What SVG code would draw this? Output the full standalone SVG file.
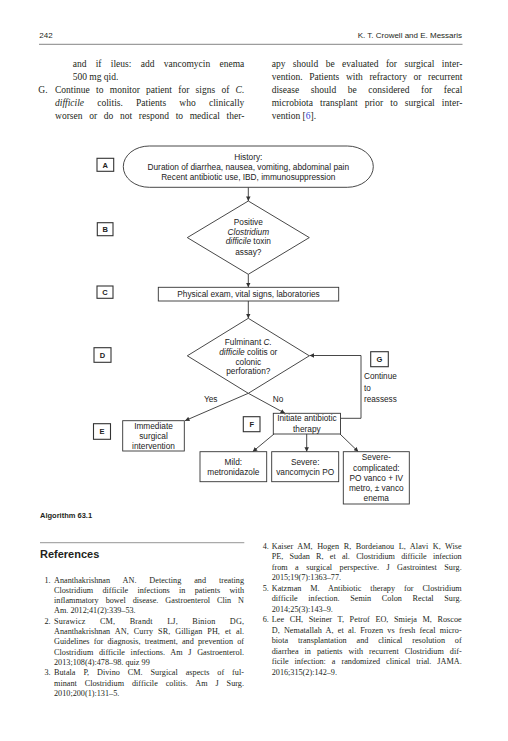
<svg xmlns="http://www.w3.org/2000/svg" width="508" height="741" viewBox="0 0 508 741">
<style>
.pg{font-family:"Liberation Serif","Times New Roman",serif;font-size:9.5px;fill:#231f20}
.rf{font-family:"Liberation Serif","Times New Roman",serif;font-size:8.2px;fill:#231f20}
.hd{font-family:"Liberation Sans",Arial,sans-serif;font-size:8px;fill:#231f20}
.fc{font-family:"Liberation Sans",Arial,sans-serif;font-size:8.3px;fill:#222;text-anchor:middle}
.fl{font-family:"Liberation Sans",Arial,sans-serif;font-size:8.2px;fill:#222}
.lb{font-family:"Liberation Sans",Arial,sans-serif;font-size:7.5px;font-weight:bold;fill:#222;text-anchor:middle}
.shape{fill:#fff;stroke:#333;stroke-width:0.9}
.lbox{fill:#fff;stroke:#333;stroke-width:1.1}
.conn{fill:none;stroke:#333;stroke-width:0.9}
.i{font-style:italic}
</style>
<defs>
<marker id="ah" viewBox="0 0 10 10" refX="10" refY="5" markerWidth="5" markerHeight="4.5" markerUnits="userSpaceOnUse" orient="auto">
<path d="M0,0 L10,5 L0,10 z" fill="#333"/>
</marker>
</defs>
<rect width="508" height="741" fill="#fff"/>

<!-- header -->
<g id="header">
<text class="hd" x="39.3" y="38">242</text>
<text class="hd" x="462" y="38" text-anchor="end">K. T. Crowell and E. Messaris</text>
<line x1="39" y1="44.3" x2="462.5" y2="44.3" stroke="#666" stroke-width="0.8"/>
</g>

<!-- body text -->
<g id="body">
<text class="pg" x="72.7" y="66.5" word-spacing="6.9" textLength="171.6" lengthAdjust="spacing">and if ileus: add vancomycin enema</text>
<text class="pg" x="72.7" y="79.8">500 mg qid.</text>
<text class="pg" x="38.3" y="93">G.</text>
<text class="pg" x="55" y="93" word-spacing="3.9" textLength="189.3" lengthAdjust="spacing">Continue to monitor patient for signs of <tspan class="i">C.</tspan></text>
<text class="pg" x="55" y="106" word-spacing="10.8" textLength="189.3" lengthAdjust="spacing"><tspan class="i">difficile</tspan> colitis. Patients who clinically</text>
<text class="pg" x="55" y="119" word-spacing="4.3" textLength="189.3" lengthAdjust="spacing">worsen or do not respond to medical ther-</text>

<text class="pg" x="271.7" y="66.5" word-spacing="5" textLength="190.6" lengthAdjust="spacing">apy should be evaluated for surgical inter-</text>
<text class="pg" x="271.7" y="79.8" word-spacing="4.2" textLength="190.6" lengthAdjust="spacing">vention. Patients with refractory or recurrent</text>
<text class="pg" x="271.7" y="93" word-spacing="9.2" textLength="190.6" lengthAdjust="spacing">disease should be considered for fecal</text>
<text class="pg" x="271.7" y="106" word-spacing="4.7" textLength="190.6" lengthAdjust="spacing">microbiota transplant prior to surgical inter-</text>
<text class="pg" x="271.7" y="119">vention [<tspan fill="#2b3fd6">6</tspan>].</text>
</g>

<!-- connectors -->
<g id="connectors">
<line class="conn" x1="248.3" y1="187.3" x2="248.3" y2="201" marker-end="url(#ah)"/>
<line class="conn" x1="248.3" y1="274.3" x2="248.3" y2="287.3" marker-end="url(#ah)"/>
<line class="conn" x1="248.3" y1="301" x2="248.3" y2="318.3" marker-end="url(#ah)"/>
<line class="conn" x1="248.3" y1="393.3" x2="185" y2="420.7" marker-end="url(#ah)"/>
<line class="conn" x1="248.3" y1="393.3" x2="285" y2="413.3" marker-end="url(#ah)"/>
<polyline class="conn" points="340.5,418.3 361,418.3 361,355.5 309.5,355.5" marker-end="url(#ah)"/>
<line class="conn" x1="274" y1="434" x2="252.7" y2="451.7" marker-end="url(#ah)"/>
<line class="conn" x1="306.7" y1="434" x2="306.7" y2="451.7" marker-end="url(#ah)"/>
<line class="conn" x1="340" y1="434" x2="358.3" y2="451.7" marker-end="url(#ah)"/>
<text class="fc" x="210.7" y="402">Yes</text>
<text class="fc" x="278" y="402">No</text>
<text class="fl" x="364" y="379.4">Continue</text>
<text class="fl" x="364" y="391">to</text>
<text class="fl" x="364" y="401.7">reassess</text>
</g>

<!-- nodes -->
<g id="nodeA">
<rect class="shape" x="123.3" y="146" width="250" height="41.3" rx="26" ry="20.6"/>
<text class="fc" x="248.3" y="160">History:</text>
<text class="fc" x="248.3" y="170">Duration of diarrhea, nausea, vomiting, abdominal pain</text>
<text class="fc" x="248.3" y="180">Recent antibiotic use, IBD, immunosuppression</text>
</g>
<g id="nodeB">
<polygon class="shape" points="248.3,201 309.3,237.6 248.3,274.3 187.3,237.6"/>
<text class="fc" x="248.3" y="224.5">Positive</text>
<text class="fc i" x="248.3" y="234.5">Clostridium</text>
<text class="fc" x="248.3" y="244.3"><tspan class="i">difficile</tspan> toxin</text>
<text class="fc" x="248.3" y="255">assay?</text>
</g>
<g id="nodeC">
<rect class="shape" x="158.3" y="287.3" width="180.4" height="13.7"/>
<text class="fc" x="248.5" y="297">Physical exam, vital signs, laboratories</text>
</g>
<g id="nodeD">
<polygon class="shape" points="248.3,318.3 309.3,355.8 248.3,393.3 187.3,355.8"/>
<text class="fc" x="248.3" y="344.5">Fulminant <tspan class="i">C.</tspan></text>
<text class="fc" x="248.3" y="354.5"><tspan class="i">difficile</tspan> colitis or</text>
<text class="fc" x="248.3" y="364.5">colonic</text>
<text class="fc" x="248.3" y="374">perforation?</text>
</g>
<g id="nodeE">
<rect class="shape" x="122.7" y="420.7" width="61.6" height="30.3"/>
<text class="fc" x="153.5" y="429">Immediate</text>
<text class="fc" x="153.5" y="439">surgical</text>
<text class="fc" x="153.5" y="448.7">intervention</text>
</g>
<g id="nodeF">
<rect class="shape" x="273.3" y="413.3" width="67.2" height="20.7"/>
<text class="fc" x="306.9" y="421.2">Initiate antibiotic</text>
<text class="fc" x="306.9" y="432">therapy</text>
</g>
<g id="nodeMild">
<rect class="shape" x="200" y="451.7" width="66.7" height="30"/>
<text class="fc" x="233.3" y="465">Mild:</text>
<text class="fc" x="233.3" y="474.6">metronidazole</text>
</g>
<g id="nodeSevere">
<rect class="shape" x="271.7" y="451.7" width="67" height="30"/>
<text class="fc" x="305.2" y="465">Severe:</text>
<text class="fc" x="305.2" y="474.6">vancomycin PO</text>
</g>
<g id="nodeComplicated">
<rect class="shape" x="343.3" y="451.7" width="66" height="52.3"/>
<text class="fc" x="376.3" y="460.2">Severe-</text>
<text class="fc" x="376.3" y="471.2">complicated:</text>
<text class="fc" x="376.3" y="481.2">PO vanco + IV</text>
<text class="fc" x="376.3" y="491.2">metro, ± vanco</text>
<text class="fc" x="376.3" y="501.2">enema</text>
</g>

<!-- step labels -->
<g id="labelA"><rect class="lbox" x="97" y="158.3" width="16.7" height="13"/><text class="lb" x="105.3" y="167.6">A</text></g>
<g id="labelB"><rect class="lbox" x="97.3" y="222.7" width="15.7" height="13"/><text class="lb" x="105.2" y="232">B</text></g>
<g id="labelC"><rect class="lbox" x="97" y="286" width="16" height="12.3"/><text class="lb" x="105" y="295">C</text></g>
<g id="labelD"><rect class="lbox" x="94" y="347.7" width="17" height="14.6"/><text class="lb" x="102.5" y="357.8">D</text></g>
<g id="labelE"><rect class="lbox" x="93.5" y="423.7" width="17" height="15.6"/><text class="lb" x="102" y="434.3">E</text></g>
<g id="labelF"><rect class="lbox" x="243.3" y="416.7" width="16.7" height="15"/><text class="lb" x="251.7" y="427">F</text></g>
<g id="labelG"><rect class="lbox" x="370.7" y="351.7" width="17.6" height="15"/><text class="lb" x="379.5" y="362">G</text></g>

<!-- caption and references -->
<g id="references">
<text x="40" y="518" style="font-family:'Liberation Sans',Arial,sans-serif;font-size:7.5px;font-weight:bold;fill:#231f20">Algorithm 63.1</text>
<line x1="40" y1="542.7" x2="244.3" y2="542.7" stroke="#aaa" stroke-width="1.3"/>
<text x="40" y="558" style="font-family:'Liberation Sans',Arial,sans-serif;font-size:11px;font-weight:bold;fill:#231f20">References</text>

<text class="rf" x="44.5" y="582.5">1.</text>
<text class="rf" x="54" y="582.5" word-spacing="10.8" textLength="190" lengthAdjust="spacing">Ananthakrishnan AN. Detecting and treating</text>
<text class="rf" x="54" y="592.8" word-spacing="7.2" textLength="190" lengthAdjust="spacing">Clostridium difficile infections in patients with</text>
<text class="rf" x="54" y="603.1" word-spacing="4.9" textLength="190" lengthAdjust="spacing">inflammatory bowel disease. Gastroenterol Clin N</text>
<text class="rf" x="54" y="613.4">Am. 2012;41(2):339–53.</text>
<text class="rf" x="44.5" y="623.7">2.</text>
<text class="rf" x="54" y="623.7" word-spacing="12.3" textLength="190" lengthAdjust="spacing">Surawicz CM, Brandt LJ, Binion DG,</text>
<text class="rf" x="54" y="634" word-spacing="3" textLength="190" lengthAdjust="spacing">Ananthakrishnan AN, Curry SR, Gilligan PH, et al.</text>
<text class="rf" x="54" y="644.3" word-spacing="2.1" textLength="190" lengthAdjust="spacing">Guidelines for diagnosis, treatment, and prevention of</text>
<text class="rf" x="54" y="654.6" word-spacing="3.6" textLength="190" lengthAdjust="spacing">Clostridium difficile infections. Am J Gastroenterol.</text>
<text class="rf" x="54" y="664.9">2013;108(4):478–98. quiz 99</text>
<text class="rf" x="44.5" y="675.2">3.</text>
<text class="rf" x="54" y="675.2" word-spacing="5.8" textLength="190" lengthAdjust="spacing">Butala P, Divino CM. Surgical aspects of ful-</text>
<text class="rf" x="54" y="685.5" word-spacing="5.8" textLength="190" lengthAdjust="spacing">minant Clostridium difficile colitis. Am J Surg.</text>
<text class="rf" x="54" y="695.8">2010;200(1):131–5.</text>

<text class="rf" x="262.7" y="548.5">4.</text>
<text class="rf" x="271.7" y="548.5" word-spacing="2.4" textLength="190" lengthAdjust="spacing">Kaiser AM, Hogen R, Bordeianou L, Alavi K, Wise</text>
<text class="rf" x="271.7" y="559" word-spacing="4.3" textLength="190" lengthAdjust="spacing">PE, Sudan R, et al. Clostridium difficile infection</text>
<text class="rf" x="271.7" y="569.5" word-spacing="5.4" textLength="190" lengthAdjust="spacing">from a surgical perspective. J Gastrointest Surg.</text>
<text class="rf" x="271.7" y="580">2015;19(7):1363–77.</text>
<text class="rf" x="262.7" y="590.5">5.</text>
<text class="rf" x="271.7" y="590.5" word-spacing="6.8" textLength="190" lengthAdjust="spacing">Katzman M. Antibiotic therapy for Clostridium</text>
<text class="rf" x="271.7" y="601" word-spacing="8.6" textLength="190" lengthAdjust="spacing">difficile infection. Semin Colon Rectal Surg.</text>
<text class="rf" x="271.7" y="611.5">2014;25(3):143–9.</text>
<text class="rf" x="262.7" y="622">6.</text>
<text class="rf" x="271.7" y="622" word-spacing="3.5" textLength="190" lengthAdjust="spacing">Lee CH, Steiner T, Petrof EO, Smieja M, Roscoe</text>
<text class="rf" x="271.7" y="632.5" word-spacing="2.2" textLength="190" lengthAdjust="spacing">D, Nematallah A, et al. Frozen vs fresh fecal micro-</text>
<text class="rf" x="271.7" y="643" word-spacing="7.8" textLength="190" lengthAdjust="spacing">biota transplantation and clinical resolution of</text>
<text class="rf" x="271.7" y="653.5" word-spacing="4" textLength="190" lengthAdjust="spacing">diarrhea in patients with recurrent Clostridium dif-</text>
<text class="rf" x="271.7" y="664" word-spacing="3.9" textLength="190" lengthAdjust="spacing">ficile infection: a randomized clinical trial. JAMA.</text>
<text class="rf" x="271.7" y="674.5">2016;315(2):142–9.</text>
</g>
</svg>
